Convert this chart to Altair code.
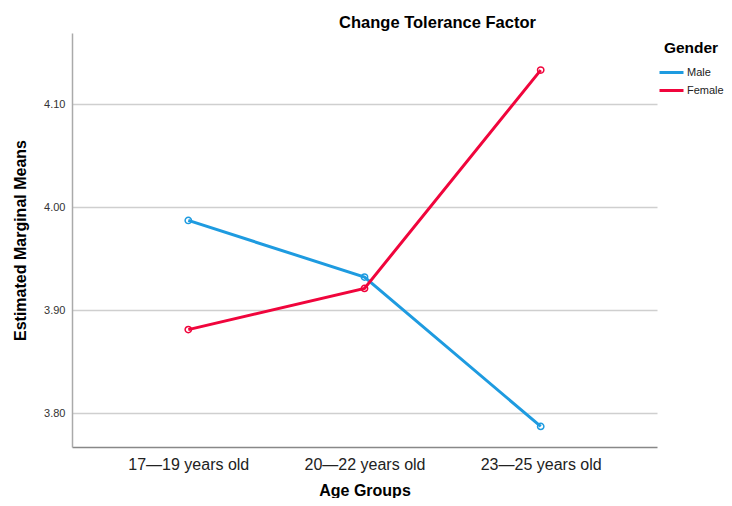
import altair as alt
import pandas as pd

age_groups = ["17\u201419 years old", "20\u201422 years old", "23\u201425 years old"]
genders = ["Male", "Female"]
male_means = [3.987, 3.932, 3.787]
female_means = [3.881, 3.921, 4.133]
y_ticks = [3.80, 3.90, 4.00, 4.10]

rows = []
for g, vals in zip(genders, [male_means, female_means]):
    for a, v in zip(age_groups, vals):
        rows.append({"Age": a, "Gender": g, "Mean": v})
df = pd.DataFrame(rows)

FONT = "Liberation Sans"
colors = ["#1E9BE0", "#F0053C"]

x = alt.X("Age:N", sort=age_groups,
          scale=alt.Scale(type="point", padding=0.66),
          axis=alt.Axis(title="Age Groups", labelFontSize=16, labelColor="#222",
                        labelAngle=0, labelPadding=9, titlePadding=10, titleFontSize=16,
                        titleFontWeight="bold", titleColor="#000", ticks=False,
                        domainColor="#888", domainWidth=1.5, grid=False,
                        labelFont=FONT, titleFont=FONT))
y = alt.Y("Mean:Q", scale=alt.Scale(domain=[3.767, 4.169], nice=False, zero=False),
          axis=alt.Axis(title="Estimated Marginal Means", values=y_ticks, format=".2f",
                        labelFontSize=11, labelColor="#333", labelPadding=7,
                        titleFontSize=16, titleFontWeight="bold", titleColor="#000",
                        titlePadding=15, ticks=False, domainColor="#aaa",
                        domainWidth=1.5, gridColor="#cfcfcf", gridWidth=1.5,
                        labelFont=FONT, titleFont=FONT))
color = alt.Color("Gender:N", sort=genders,
                  scale=alt.Scale(domain=genders, range=colors),
                  legend=alt.Legend(title="Gender", orient="none", legendX=586, legendY=8,
                                    symbolType="stroke", symbolSize=576,
                                    symbolStrokeWidth=3, labelFontSize=11,
                                    labelFont=FONT, titleFont=FONT, titleFontSize=15.5,
                                    titleFontWeight="bold", titleColor="#000",
                                    labelColor="#222", titleAnchor="middle",
                                    clipHeight=18, rowPadding=0, padding=0,
                                    titlePadding=7, labelOffset=2))

base = alt.Chart(df).encode(x=x, y=y, color=color)
line = base.mark_line(strokeWidth=3)
pts = base.mark_point(filled=False, size=40, strokeWidth=1.5, opacity=1)

chart = alt.layer(line, pts).properties(
    width=585, height=414,
    title=alt.TitleParams("Change Tolerance Factor", font=FONT, fontSize=16.5,
                          fontWeight="bold", color="#000", dx=73, offset=2),
    autosize=alt.AutoSizeParams(type="none"),
    padding={"left": 64, "top": 25, "right": 67, "bottom": 51},
).configure_view(stroke=None)

chart.save("out.html", embed_options={"renderer": "svg", "actions": False})
